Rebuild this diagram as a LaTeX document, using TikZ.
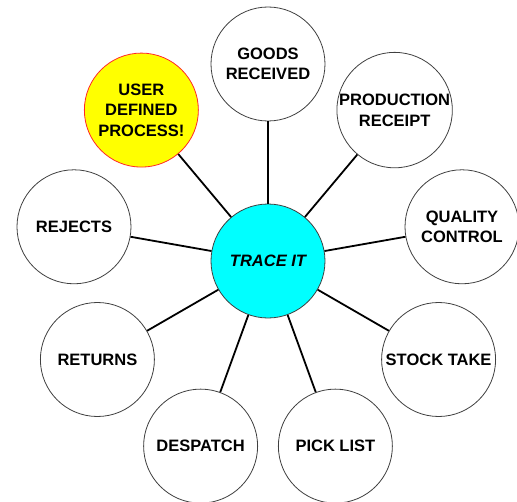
\documentclass[tikz,border=0pt]{standalone}
\usepackage{fontspec}
\setmainfont{Liberation Sans}
\definecolor{cyanhub}{RGB}{0,255,255}
\definecolor{yellowuser}{RGB}{255,255,0}
\definecolor{redrim}{RGB}{255,40,40}
\definecolor{c404040}{RGB}{64,64,64}
\tikzset{
  bubble/.style={circle, draw=c404040, line width=0.8pt, fill=white,
    minimum size=114pt, inner sep=0pt, align=center,
    font=\fontsize{16.5}{20.5}\selectfont\bfseries},
  spoke/.style={draw=black, line width=1.8pt}
}

\begin{document}
\begin{tikzpicture}[x=1pt, y=1pt]
  \useasboundingbox[fill=white] (-268, -240) rectangle (249, 261);

  \node[bubble, fill=cyanhub] (hub) at (0, 0){\itshape TRACE IT};

  \node[bubble] (goods) at (90:197){GOODS\\RECEIVED};
  \node[bubble] (prod) at (50:197){PRODUCTION\\RECEIPT};
  \node[bubble] (quality) at (10:197){QUALITY\\CONTROL};
  \node[bubble] (stock) at (-30:197){STOCK TAKE};
  \node[bubble] (pick) at (-70:197){PICK LIST};
  \node[bubble] (despatch) at (-110:197){DESPATCH};
  \node[bubble] (returns) at (-150:197){RETURNS};
  \node[bubble] (rejects) at (170:197){REJECTS};
  \node[bubble, fill=yellowuser, draw=redrim] (user) at (130:197){USER\\DEFINED\\PROCESS!};

  \path[spoke] (hub) -- (goods);
  \path[spoke] (hub) -- (prod);
  \path[spoke] (hub) -- (quality);
  \path[spoke] (hub) -- (stock);
  \path[spoke] (hub) -- (pick);
  \path[spoke] (hub) -- (despatch);
  \path[spoke] (hub) -- (returns);
  \path[spoke] (hub) -- (rejects);
  \path[spoke] (hub) -- (user);

\end{tikzpicture}
\end{document}
